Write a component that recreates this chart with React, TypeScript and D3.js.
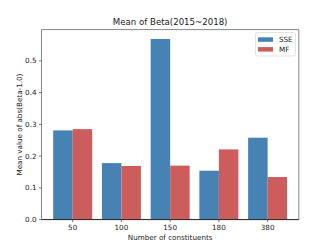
import React from 'react';
import * as d3 from 'd3';

const categories = ['50', '100', '150', '180', '380'];
const sseValues = [0.281, 0.178, 0.569, 0.154, 0.258];
const mfValues = [0.285, 0.169, 0.17, 0.221, 0.134];
const yTicks = [0.0, 0.1, 0.2, 0.3, 0.4, 0.5];

const W = 332;
const H = 247;
const left = 41.5;
const right = 298.8;
const top = 29.6;
const bottom = 219.6;
const barW = 0.4;
const font = 'DejaVu Sans, sans-serif';

const App = () => {
  const x = d3.scaleLinear().domain([-0.64, 4.64]).range([left, right]);
  const y = d3.scaleLinear().domain([0, 0.5985]).range([bottom, top]);

  const series = [
    { name: 'SSE', values: sseValues, color: '#4682b4', off: -barW / 2 },
    { name: 'MF', values: mfValues, color: '#cd5c5c', off: barW / 2 },
  ];

  return (
    <svg width={W} height={H} style={{ position: 'absolute', left: 0, top: 0 }} fontFamily={font}>
      <rect width={W} height={H} fill="#fff" />
      {series.map(s =>
        s.values.map((v, i) => (
          <rect
            key={s.name + i}
            x={x(i + s.off - barW / 2)}
            y={y(v)}
            width={x(barW) - x(0)}
            height={y(0) - y(v)}
            fill={s.color}
          />
        ))
      )}
      {/* spines */}
      <line x1={left} x2={left} y1={top} y2={bottom} stroke="#888" strokeWidth={1} />
      <line x1={right} x2={right} y1={top} y2={bottom} stroke="#888" strokeWidth={1} />
      <line x1={left} x2={right} y1={top} y2={top} stroke="#888" strokeWidth={1} />
      <line x1={left} x2={right} y1={bottom} y2={bottom} stroke="#222" strokeWidth={1} />
      {/* y ticks */}
      {yTicks.map(t => (
        <g key={t}>
          <line x1={left - 2.5} x2={left} y1={y(t)} y2={y(t)} stroke="#222" strokeWidth={0.6} />
          <text x={left - 5} y={y(t)} dy="0.35em" textAnchor="end" fontSize={7.2} fill="#222">
            {t.toFixed(1)}
          </text>
        </g>
      ))}
      {/* x ticks */}
      {categories.map((c, i) => (
        <g key={c}>
          <line x1={x(i)} x2={x(i)} y1={bottom} y2={bottom + 2.5} stroke="#222" strokeWidth={0.6} />
          <text x={x(i)} y={bottom + 10.5} textAnchor="middle" fontSize={7.2} fill="#222">
            {c}
          </text>
        </g>
      ))}
      <text x={(left + right) / 2} y={240} textAnchor="middle" fontSize={7.2} fill="#222">
        Number of constituents
      </text>
      <text
        transform={`translate(21.5,${(top + bottom) / 2}) rotate(-90)`}
        textAnchor="middle"
        fontSize={7.2}
        fill="#222"
      >
        Mean value of abs(Beta-1.0)
      </text>
      <text x={(left + right) / 2} y={25} textAnchor="middle" fontSize={8.6} fill="#222">
        Mean of Beta(2015~2018)
      </text>
      {/* legend */}
      <rect x={255.5} y={32.5} width={40} height={23.5} rx={2} fill="#fff" stroke="#ddd" strokeWidth={0.8} />
      {series.map((s, i) => (
        <g key={s.name}>
          <rect x={258} y={37.3 + i * 9.8} width={15} height={4.5} fill={s.color} />
          <text x={279} y={39.6 + i * 9.8} dy="0.35em" fontSize={7.2} fill="#222">
            {s.name}
          </text>
        </g>
      ))}
    </svg>
  );
};

export default App;
